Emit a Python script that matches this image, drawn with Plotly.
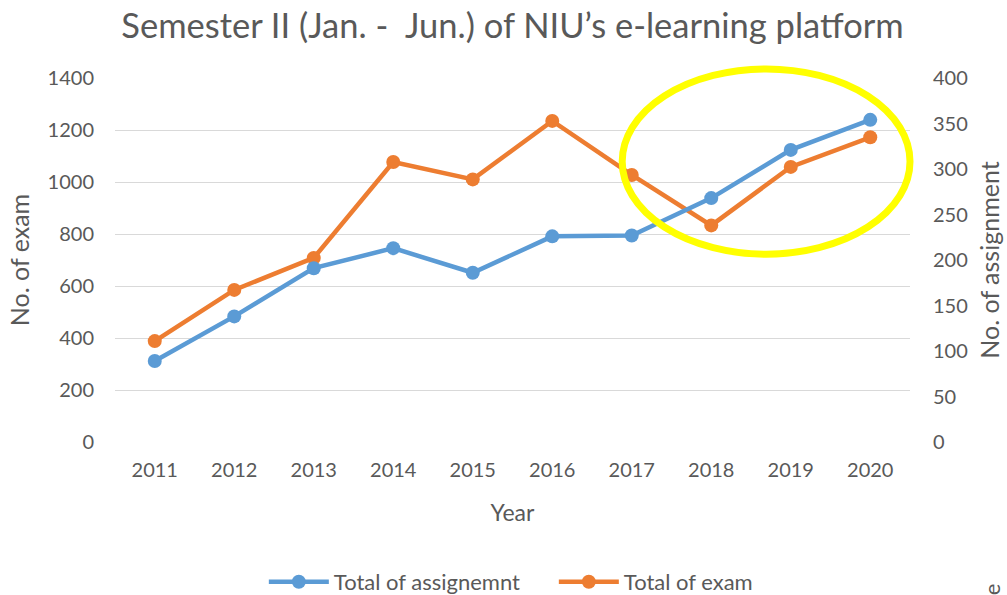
import plotly.graph_objects as go

years = [2011, 2012, 2013, 2014, 2015, 2016, 2017, 2018, 2019, 2020]
total_exam = [388, 585, 708, 1077, 1010, 1235, 1027, 833, 1058, 1172]
total_assignment = [89, 138, 191, 213, 186, 226, 227, 268, 321, 354]

BLUE = "#5B9BD5"
ORANGE = "#ED7D31"
GREY = "#595959"
FONT = "Lato"

fig = go.Figure()
fig.add_trace(go.Scatter(
    x=years, y=total_assignment, name="Total of assignemnt", yaxis="y2",
    mode="lines+markers", line=dict(color=BLUE, width=4.5),
    marker=dict(color=BLUE, size=14)))
fig.add_trace(go.Scatter(
    x=years, y=total_exam, name="Total of exam", yaxis="y",
    mode="lines+markers", line=dict(color=ORANGE, width=4.5),
    marker=dict(color=ORANGE, size=14)))

fig.update_layout(
    width=1007, height=595,
    margin=dict(l=115, r=97, t=78, b=153, autoexpand=False),
    paper_bgcolor="white", plot_bgcolor="white",
    font=dict(family=FONT, color=GREY, size=19),
    title=dict(text="Semester II (Jan. -  Jun.) of NIU’s e-learning platform",
               x=0.5, xref="paper", xanchor="center", y=0.957, yanchor="middle",
               font=dict(size=34.5, family=FONT, color=GREY)),
    xaxis=dict(range=[2010.5, 2020.5], tickvals=years, ticktext=[str(y) for y in years],
               showgrid=False, zeroline=False, showline=False, ticks="", automargin=False,
               tickfont=dict(size=20), ticklabelstandoff=14,
               title=dict(text="Year", font=dict(size=23), standoff=24)),
    yaxis=dict(range=[0, 1400], dtick=200, showgrid=True, gridcolor="#D9D9D9",
               gridwidth=1.3, zeroline=False, showline=False, ticks="", automargin=False,
               tickfont=dict(size=20), ticklabelstandoff=20,
               title=dict(text="No. of exam", font=dict(size=25), standoff=10)),
    yaxis2=dict(range=[0, 400], dtick=50, overlaying="y", side="right",
                showgrid=False, zeroline=False, showline=False, ticks="", automargin=False,
                tickfont=dict(size=20), ticklabelstandoff=22,
                title=dict(text="No. of assignment", font=dict(size=25), standoff=14)),
    legend=dict(orientation="h", x=0.262, xanchor="left", xref="container",
                y=0.022, yanchor="middle", yref="container",
                font=dict(size=22, color=GREY), itemwidth=60,
                entrywidth=215, entrywidthmode="pixels",
                traceorder="normal"),
    showlegend=True,
)

fig.add_shape(type="circle", xref="paper", yref="paper",
              x0=0.638, x1=1.0, y0=0.516, y1=1.025,
              line=dict(color="#FFFF00", width=7), layer="above")

fig.add_annotation(text="e", xref="paper", yref="paper", x=1.103, y=-0.405,
                   showarrow=False, textangle=-90, font=dict(size=22, color=GREY),
                   xanchor="center", yanchor="middle")

fig.write_html("out.html", config={"displayModeBar": False},
               post_script="document.body.style.margin='0';document.body.style.overflow='hidden';")
